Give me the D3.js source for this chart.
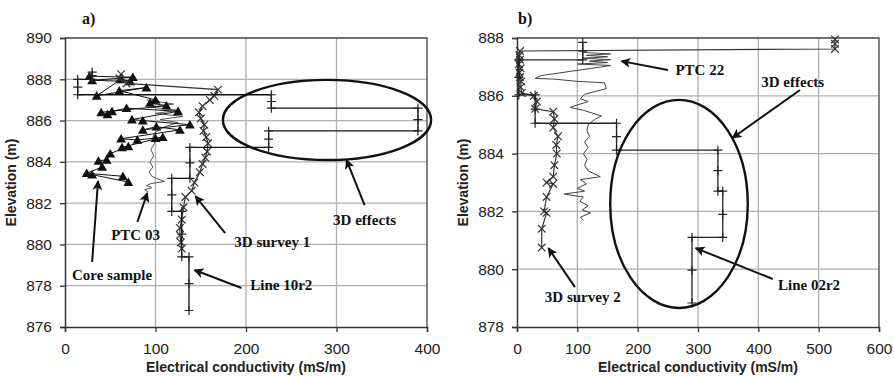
<!DOCTYPE html>
<html><head><meta charset="utf-8">
<script src="https://cdn.jsdelivr.net/npm/d3@7"></script>
<style>
body{margin:0;background:#fff;}
svg{display:block;}
.tick text{font-family:"Liberation Sans",Arial,sans-serif;font-size:15.5px;fill:#222;}
.axlab{font-family:"Liberation Sans",Arial,sans-serif;font-size:14px;font-weight:bold;fill:#222;}
.ann{font-family:"Liberation Serif","Times New Roman",serif;font-size:15px;font-weight:bold;fill:#111;}
</style></head><body>
<svg id="chart" width="894" height="377"></svg>
<script>
// ---------------- Panel a data ----------------
const aXTicks = [0, 100, 200, 300, 400];
const aYTicks = [876, 878, 880, 882, 884, 886, 888, 890];

// Core sample (triangles) [conductivity, elevation]
const aCoreSample = [
  [27,888.15],[75,888.1],[30,887.95],[72,887.9],[62,888.0],[35,887.2],[90,887.6],[60,887.45],
  [100,887.0],[94,886.85],[112,886.72],[40,886.4],[47,886.3],[52,886.45],[68,886.6],[125,886.45],
  [74,886.05],[86,886.0],[138,885.8],[86,885.55],[101,885.7],[127,885.55],[62,885.12],[80,885.06],
  [100,885.15],[108,885.2],[63,884.7],[70,884.75],[50,884.4],[46,884.1],[37,884.05],[41,883.75],
  [24,883.45],[64,883.3],[70,883.02],[30,883.38]
];
// PTC 03 (thin line)
const aPTC03 = [
  [90,887.0],[120,886.8],[95,886.65],[125,886.5],[100,886.35],[130,886.2],[105,886.05],[125,885.9],
  [110,885.7],[100,885.45],[97,885.2],[99,884.9],[95,884.6],[98,884.3],[94,884.0],[97,883.75],
  [93,883.5],[96,883.3],[101,883.2],[110,883.05],[95,882.95],[90,882.85],[96,882.75],[88,882.65],[92,882.55]
];
// 3D survey 1 (x markers)
const aSurvey1 = [
  [62,888.25],[60,888.05],[68,887.8],[169,887.5],[165,887.2],[160,887.0],[152,886.7],[148,886.4],
  [150,886.1],[154,885.8],[153,885.5],[156,885.2],[158,884.9],[157,884.5],[155,884.2],[152,883.9],
  [149,883.5],[143,883.0],[140,882.6],[133,882.3],[131,881.8],[129,881.2],[127,880.8],[127,880.45],
  [128,880.1],[129,879.8]
];
// Line 10r2 (layered model): layer tops, values, final bottom
const aLineTops = [888.35, 888.0, 887.25, 886.6, 885.5, 884.7, 883.2, 881.6, 879.4];
const aLineVals = [30, 14, 228, 390, 225, 138, 118, 129, 137];
const aLineBottom = 876.8;

// ---------------- Panel b data ----------------
const bXTicks = [0, 100, 200, 300, 400, 500, 600];
const bYTicks = [878, 880, 882, 884, 886, 888];

const bPTC22 = [
  [110,887.5],[155,887.45],[115,887.4],[150,887.35],[110,887.3],[155,887.25],[120,887.2],[150,887.15],
  [100,887.1],[155,887.05],[140,887.0],[90,886.85],[40,886.7],[30,886.6],[60,886.58],[100,886.5],
  [145,886.45],[148,886.25],[112,886.05],[105,885.9],[118,885.8],[95,885.65],[88,885.6],[110,885.5],
  [125,885.4],[140,885.3],[130,885.2],[118,885.0],[116,884.8],[120,884.6],[112,884.4],[118,884.2],
  [110,884.0],[116,883.8],[112,883.6],[118,883.4],[138,883.2],[105,883.1],[115,882.95],[100,882.8],
  [112,882.7],[78,882.6],[110,882.5],[104,882.35],[118,882.2],[108,882.05],[122,881.95],[105,881.8],[110,881.7]
];
const bSurvey2 = [
  [527,887.95],[527,887.8],[527,887.62],[5,887.55],[4,887.4],[5,887.25],[3,887.1],[6,886.95],
  [4,886.8],[5,886.65],[7,886.5],[6,886.3],[8,886.1],[28,886.0],[33,885.8],[30,885.55],[60,885.45],
  [62,885.2],[60,884.9],[68,884.6],[65,884.3],[66,884.0],[62,883.6],[60,883.2],[49,883.0],[60,882.95],
  [49,882.5],[45,882.0],[49,881.95],[41,881.4],[41,880.75]
];
const bLineTops = [887.85, 887.24, 886.03, 885.05, 884.12, 882.7, 881.1];
const bLineVals = [109, 3, 30, 165, 333, 341, 290];
const bLineBottom = 878.83;

// ---------------- annotations (in data coordinates) ----------------
const aNotes = [
  {text:"3D effects", x:331, y:880.94, from:[331,881.9], to:[311,884.1]},
  {text:"3D survey 1", x:229, y:879.87, from:[177,880.55], to:[144,882.34]},
  {text:"Line 10r2", x:239, y:877.79, from:[195,877.89], to:[143,878.76]},
  {text:"PTC 03", x:78, y:880.21, from:[80,881.09], to:[91,882.49]},
  {text:"Core sample", x:52, y:878.28, from:[30,879.15], to:[36.5,883.07]}
];
const aEllipse = {cx:289.5, cy:886.03, rx:115, ry:1.94};
const bNotes = [
  {text:"3D effects", x:457, y:886.30, from:[469,886.2], to:[357,884.54]},
  {text:"PTC 22", x:303, y:886.72, from:[250,886.89], to:[173,887.2]},
  {text:"Line 02r2", x:484, y:879.28, from:[424,879.66], to:[296,880.73]},
  {text:"3D survey 2", x:109, y:878.87, from:[96,879.38], to:[52,880.73]}
];
const bEllipse = {cx:268.5, cy:882.26, rx:114, ry:3.6};

// ---------------- drawing ----------------
const svg = d3.select("#chart");
const defs = svg.append("defs");
defs.append("marker").attr("id","arr").attr("viewBox","0 0 10 10").attr("refX",9).attr("refY",5)
  .attr("markerWidth",10).attr("markerHeight",10).attr("markerUnits","userSpaceOnUse").attr("orient","auto")
  .append("path").attr("d","M0,0 L10,5 L0,10 L2.5,5 Z").attr("fill","#111");

function layerPoints(tops, vals, bottom){
  const pts = [], marks = [];
  tops.forEach((t,i)=>{
    const b = i < tops.length-1 ? tops[i+1] : bottom;
    pts.push([vals[i], t]); pts.push([vals[i], b]);
    marks.push([vals[i], t]); marks.push([vals[i], (t+b)/2]); marks.push([vals[i], b]);
  });
  return {pts, marks};
}

function panel(cfg){
  const g = svg.append("g").attr("transform",`translate(${cfg.left},${cfg.top})`);
  const x = d3.scaleLinear().domain(cfg.xDomain).range([0,cfg.w]);
  const y = d3.scaleLinear().domain(cfg.yDomain).range([cfg.h,0]);
  // grid
  g.append("g").selectAll("line").data(cfg.xTicks.slice(1,-1)).join("line")
    .attr("x1",d=>x(d)).attr("x2",d=>x(d)).attr("y1",0).attr("y2",cfg.h)
    .attr("stroke","#b0b0b0").attr("stroke-width",1.3);
  g.append("g").selectAll("line").data(cfg.yTicks.slice(1,-1)).join("line")
    .attr("y1",d=>y(d)).attr("y2",d=>y(d)).attr("x1",0).attr("x2",cfg.w)
    .attr("stroke","#b0b0b0").attr("stroke-width",1.3);
  // frame top/right
  g.append("path").attr("d",`M0,0H${cfg.w}V${cfg.h}`).attr("fill","none").attr("stroke","#444").attr("stroke-width",1.3);

  const line = d3.line().x(d=>x(d[0])).y(d=>y(d[1]));
  cfg.series.forEach(s=>{
    g.append("path").datum(s.data).attr("d",line).attr("fill","none")
      .attr("stroke",s.color).attr("stroke-width",s.width);
    const mk = g.append("g");
    (s.marks||s.data).forEach(d=>{
      const px = x(d[0]), py = y(d[1]);
      if(s.marker==="tri"){
        mk.append("path").attr("transform",`translate(${px},${py+1})`)
          .attr("d",d3.symbol(d3.symbolTriangle,42)()).attr("fill","#111");
      } else if(s.marker==="x"){
        const r=3.8;
        mk.append("path").attr("d",`M${px-r},${py-r}L${px+r},${py+r}M${px-r},${py+r}L${px+r},${py-r}`)
          .attr("stroke","#333").attr("stroke-width",1.2);
      } else if(s.marker==="plus"){
        const r=4.5;
        mk.append("path").attr("d",`M${px-r},${py}H${px+r}M${px},${py-r}V${py+r}`)
          .attr("stroke","#222").attr("stroke-width",1.2);
      }
    });
  });

  // axes
  const xa = g.append("g").attr("transform",`translate(0,${cfg.h})`)
    .call(d3.axisBottom(x).tickValues(cfg.xTicks).tickSize(5).tickPadding(11).tickFormat(d3.format("d")));
  const ya = g.append("g")
    .call(d3.axisLeft(y).tickValues(cfg.yTicks).tickSize(5).tickPadding(8).tickFormat(d3.format("d")));
  [xa,ya].forEach(a=>{a.select(".domain").attr("stroke","#333").attr("stroke-width",1.5);
    a.selectAll(".tick line").attr("stroke","#333").attr("stroke-width",1.3);});

  // labels
  g.append("text").attr("class","axlab").attr("x",cfg.w/2).attr("y",cfg.h+45)
    .attr("text-anchor","middle").text("Electrical conductivity  (mS/m)");
  g.append("text").attr("class","axlab").attr("transform",`translate(${cfg.ylabX},${cfg.h/2}) rotate(-90)`)
    .attr("text-anchor","middle").text("Elevation (m)");
  g.append("text").attr("class","ann").attr("x",cfg.tagX).attr("y",-14)
    .style("font-size","16px").text(cfg.tag);

  // ellipse
  const e = cfg.ellipse;
  g.append("ellipse").attr("cx",x(e.cx)).attr("cy",y(e.cy))
    .attr("rx",x(e.cx+e.rx)-x(e.cx)).attr("ry",y(e.cy-e.ry)-y(e.cy))
    .attr("fill","none").attr("stroke","#111").attr("stroke-width",2.4);
  // notes
  cfg.notes.forEach(n=>{
    g.append("line").attr("x1",x(n.from[0])).attr("y1",y(n.from[1]))
      .attr("x2",x(n.to[0])).attr("y2",y(n.to[1]))
      .attr("stroke","#111").attr("stroke-width",2).attr("marker-end","url(#arr)");
    g.append("text").attr("class","ann").attr("x",x(n.x)).attr("y",y(n.y))
      .attr("text-anchor","middle").text(n.text);
  });
}

const aL = layerPoints(aLineTops, aLineVals, aLineBottom);
panel({
  left:65, top:38, w:362, h:289, xDomain:[0,400], yDomain:[876,890],
  xTicks:aXTicks, yTicks:aYTicks, ylabX:-49, tag:"a)", tagX:17,
  ellipse:aEllipse, notes:aNotes,
  series:[
    {data:aPTC03, color:"#555", width:1},
    {data:aCoreSample, color:"#111", width:1, marker:"tri"},
    {data:aSurvey1, color:"#333", width:1.2, marker:"x"},
    {data:aL.pts, marks:aL.marks, color:"#111", width:1.3, marker:"plus"}
  ]
});
const bL = layerPoints(bLineTops, bLineVals, bLineBottom);
panel({
  left:517, top:38, w:362, h:289, xDomain:[0,600], yDomain:[878,888],
  xTicks:bXTicks, yTicks:bYTicks, ylabX:-49, tag:"b)", tagX:1,
  ellipse:bEllipse, notes:bNotes,
  series:[
    {data:bPTC22, color:"#444", width:1},
    {data:bSurvey2, color:"#333", width:1.2, marker:"x"},
    {data:bL.pts, marks:bL.marks, color:"#222", width:1.3, marker:"plus"}
  ]
});
</script>
</body></html>
